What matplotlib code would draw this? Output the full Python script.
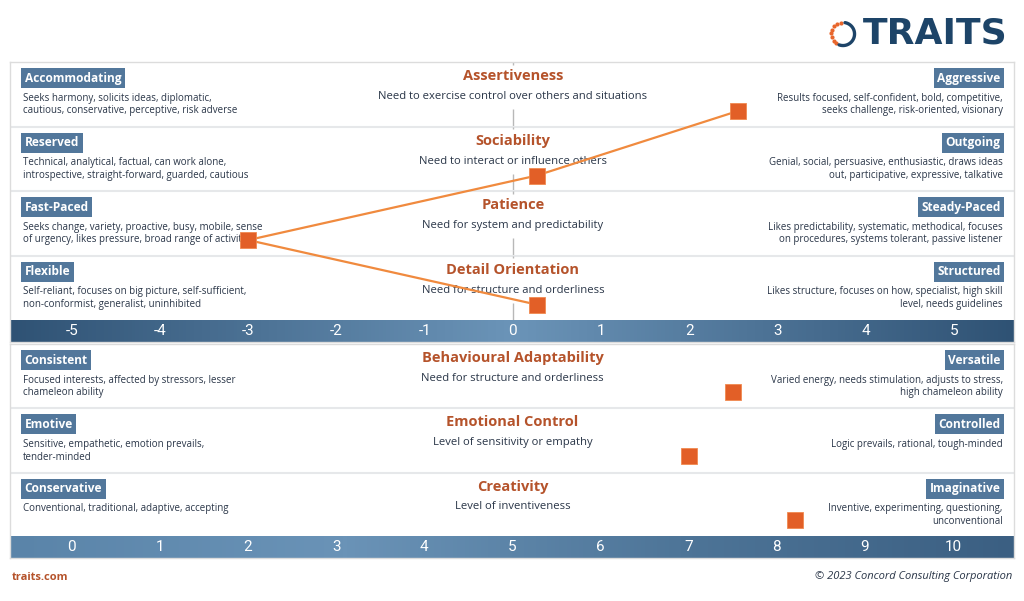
import numpy as np
import matplotlib.pyplot as plt
from matplotlib.colors import LinearSegmentedColormap

# ---- data ----
top_traits = ["Assertiveness", "Sociability", "Patience", "Detail Orientation"]
top_subtitles = ["Need to exercise control over others and situations",
                 "Need to interact or influence others",
                 "Need for system and predictability",
                 "Need for structure and orderliness"]
top_left_tags = ["Accommodating", "Reserved", "Fast-Paced", "Flexible"]
top_left_desc = ["Seeks harmony, solicits ideas, diplomatic,\ncautious, conservative, perceptive, risk adverse",
                 "Technical, analytical, factual, can work alone,\nintrospective, straight-forward, guarded, cautious",
                 "Seeks change, variety, proactive, busy, mobile, sense\nof urgency, likes pressure, broad range of activities",
                 "Self-reliant, focuses on big picture, self-sufficient,\nnon-conformist, generalist, uninhibited"]
top_right_tags = ["Aggressive", "Outgoing", "Steady-Paced", "Structured"]
top_right_desc = ["Results focused, self-confident, bold, competitive,\nseeks challenge, risk-oriented, visionary",
                  "Genial, social, persuasive, enthusiastic, draws ideas\nout, participative, expressive, talkative",
                  "Likes predictability, systematic, methodical, focuses\non procedures, systems tolerant, passive listener",
                  "Likes structure, focuses on how, specialist, high skill\nlevel, needs guidelines"]
top_scores = [2.55, 0.27, -3.0, 0.27]
top_ticks = list(range(-5, 6))

bottom_traits = ["Behavioural Adaptability", "Emotional Control", "Creativity"]
bottom_subtitles = ["Need for structure and orderliness",
                    "Level of sensitivity or empathy",
                    "Level of inventiveness"]
bottom_left_tags = ["Consistent", "Emotive", "Conservative"]
bottom_left_desc = ["Focused interests, affected by stressors, lesser\nchameleon ability",
                    "Sensitive, empathetic, emotion prevails,\ntender-minded",
                    "Conventional, traditional, adaptive, accepting"]
bottom_right_tags = ["Versatile", "Controlled", "Imaginative"]
bottom_right_desc = ["Varied energy, needs stimulation, adjusts to stress,\nhigh chameleon ability",
                     "Logic prevails, rational, tough-minded",
                     "Inventive, experimenting, questioning,\nunconventional"]
bottom_scores = [7.5, 7.0, 8.2]
bottom_ticks = list(range(0, 11))

# ---- styles ----
FONT = "Open Sans"
TAG_BG = "#52779b"
TEXT_C = "#2a3648"
TITLE_C = "#b5532b"
MARK_C = "#e25f27"
LINE_C = "#f08a3e"
SEP_C = "#e6e8ea"
bar_cmap_top = LinearSegmentedColormap.from_list("bt", ["#2f5274", "#6b94b8", "#2f5274"])
bar_cmap_bot = LinearSegmentedColormap.from_list("bb", ["#5a84a9", "#6a93b7", "#4e7598", "#3b5f82"])

W, H = 1024, 601
fig = plt.figure(figsize=(W / 100, H / 100), dpi=100)
fig.patch.set_facecolor("white")


def px_axes(x0, y0, x1, y1):
    return fig.add_axes([x0 / W, 1 - y1 / H, (x1 - x0) / W, (y1 - y0) / H])


def draw_panel(ax, traits, subs, ltags, ldesc, rtags, rdesc, ticks, xlim, bar_h, cmap, center_line):
    n = len(traits)
    xmin, xmax = xlim
    span = xmax - xmin
    for i in range(n):
        if i > 0:
            ax.axhline(i, color=SEP_C, lw=1.5, zorder=1)
        if center_line is not None:
            ax.vlines(center_line, i + 0.73, i + 1, color="#b8b8b8", lw=1, zorder=1)
            ax.vlines(center_line, i, i + 0.04, color="#b8b8b8", lw=1, zorder=1)
        lx = xmin + span * 0.0125
        rx = xmax - span * 0.0112
        ax.text(lx + span * 0.002, i + 0.25, ltags[i], ha="left", va="center", color="white",
                fontsize=8.6, fontweight="bold", family=FONT, zorder=3,
                bbox=dict(boxstyle="square,pad=0.3", fc=TAG_BG, ec="none"))
        ax.text(lx, i + 0.475, ldesc[i], ha="left", va="top", color=TEXT_C,
                fontsize=7.0, family=FONT, linespacing=1.22, zorder=3)
        ax.text(rx - span * 0.002, i + 0.25, rtags[i], ha="right", va="center", color="white",
                fontsize=8.6, fontweight="bold", family=FONT, zorder=3,
                bbox=dict(boxstyle="square,pad=0.3", fc=TAG_BG, ec="none"))
        ax.text(rx, i + 0.475, rdesc[i], ha="right", va="top", color=TEXT_C,
                fontsize=7.0, family=FONT, linespacing=1.22, multialignment="right", zorder=3)
        cx = (ticks[0] + ticks[-1]) / 2
        ax.text(cx, i + 0.22, traits[i], ha="center", va="center", color=TITLE_C,
                fontsize=10.5, fontweight="bold", family=FONT, zorder=3)
        ax.text(cx, i + 0.535, subs[i], ha="center", va="center", color=TEXT_C,
                fontsize=8.1, family=FONT, zorder=3)
    grad = np.linspace(0, 1, 256).reshape(1, -1)
    ax.imshow(grad, cmap=cmap, aspect="auto", extent=(xmin, xmax, n + bar_h, n), zorder=2)
    for t in ticks:
        ax.text(t, n + bar_h / 2, str(t), ha="center", va="center", color="white",
                fontsize=11, family="Roboto", zorder=3)
    ax.set_xlim(xmin, xmax)
    ax.set_ylim(n + bar_h, 0)
    ax.set_xticks([])
    ax.set_yticks([])
    for s in ax.spines.values():
        s.set_color("#dcdcdc")
        s.set_linewidth(1)


# top panel
ax1 = px_axes(10, 62, 1014, 342)
draw_panel(ax1, top_traits, top_subtitles, top_left_tags, top_left_desc,
           top_right_tags, top_right_desc, top_ticks, (-5.7, 5.68), 0.34,
           bar_cmap_top, 0)
rows = np.arange(len(top_scores)) + 0.76
ax1.plot(top_scores, rows, color=LINE_C, lw=1.6, zorder=4)
ax1.plot(top_scores, rows, ls="none", marker="s", ms=12, color=MARK_C,
         mec="#f08a50", mew=0.6, zorder=5)

# bottom panel
ax2 = px_axes(10, 344, 1014, 558)
draw_panel(ax2, bottom_traits, bottom_subtitles, bottom_left_tags, bottom_left_desc,
           bottom_right_tags, bottom_right_desc, bottom_ticks, (-0.7, 10.69), 0.33,
           bar_cmap_bot, None)
rows2 = np.arange(len(bottom_scores)) + 0.74
ax2.plot(bottom_scores, rows2, ls="none", marker="s", ms=12, color=MARK_C,
         mec="#f08a50", mew=0.6, zorder=5)

# logo
lax = px_axes(828, 20, 858, 48)
lax.set_xlim(-1.3, 1.3)
lax.set_ylim(-1.2, 1.2)
lax.set_aspect("equal")
lax.axis("off")
ang = np.radians(np.linspace(100, 235, 8))
lax.scatter(np.cos(ang), np.sin(ang), s=9, color="#e8662c", lw=0)
arc = np.radians(np.linspace(250, 440, 100))
lax.plot(np.cos(arc), np.sin(arc), color="#1d4468", lw=2.4, solid_capstyle="round")
fig.text(863 / W, 1 - 34 / H, "TRAITS", ha="left", va="center", color="#1d4468",
         fontsize=26, fontweight="bold", family="DejaVu Sans")

# footer
fig.text(12 / W, 1 - 577 / H, "traits.com", ha="left", va="center", color=TITLE_C,
         fontsize=8, fontweight="bold", family=FONT)
fig.text(1012 / W, 1 - 577 / H, "\u00a9 2023 Concord Consulting Corporation", ha="right",
         va="center", color=TEXT_C, fontsize=8, style="italic", family=FONT)

fig.savefig("out.png", dpi=100, facecolor="white")
